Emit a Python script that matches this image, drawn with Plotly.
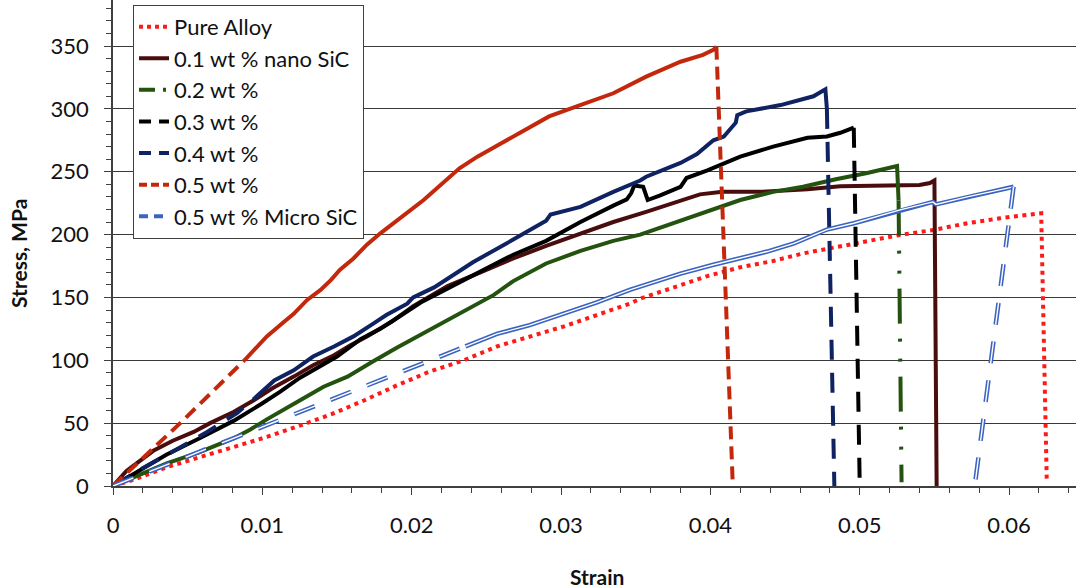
import plotly.graph_objects as go

# ---------------- data (strain, stress in MPa) ----------------
pure_strain = [0, 0.0014, 0.0036, 0.0058, 0.0081, 0.0103, 0.0125, 0.0146, 0.0168, 0.0190,
               0.0212, 0.0235, 0.0257, 0.0279, 0.0302, 0.0324, 0.0346, 0.0353, 0.0375, 0.0398,
               0.0420, 0.0442, 0.0462, 0.0484, 0.0505, 0.0527, 0.0549, 0.0572, 0.0594, 0.0616,
               0.06215, 0.06252]
pure_stress = [0, 5, 15, 23, 31, 39, 48, 57, 68, 80,
               91, 100, 111, 119, 127, 136, 145, 149, 158, 167,
               174, 179, 185, 190, 194.5, 199.7, 203.6, 209, 213, 215.6,
               217, 5]

nano01_strain = [0, 0.0009, 0.0018, 0.0027, 0.0040, 0.0054, 0.0065, 0.0081, 0.0094, 0.0107,
                 0.0121, 0.0134, 0.0148, 0.0159, 0.0170, 0.0187, 0.0201, 0.0224, 0.0246, 0.0268,
                 0.0290, 0.0313, 0.0335, 0.0357, 0.0380, 0.0393, 0.0408, 0.0434, 0.0465, 0.0487,
                 0.0540, 0.0547, 0.0550, 0.05515]
nano01_stress = [0, 12, 20, 28, 36, 43, 50, 59, 68, 78,
                 87, 96, 104, 112, 119, 131, 143, 159, 170, 181,
                 191, 201, 210, 218, 227, 232, 234, 234, 236, 238.5,
                 239.5, 241, 243, 0]

wt02_strain = [0, 0.0036, 0.0058, 0.0081, 0.0092, 0.0103, 0.0125, 0.0141, 0.0157, 0.0168,
               0.0174, 0.0190, 0.0210, 0.0228, 0.0246, 0.0255, 0.0268, 0.0290, 0.0313, 0.0335,
               0.0353, 0.0375, 0.0398, 0.0420, 0.0442, 0.0462, 0.0484, 0.0505, 0.0525, 0.0526,
               0.0528]
wt02_stress = [0, 18, 27, 38, 45, 53, 68, 79, 87, 95,
               99, 110, 123, 135, 147, 152, 163, 177, 187, 195,
               200, 209, 218, 227.5, 234, 238, 244, 249, 254.6, 227,
               3]

wt03_strain = [0, 0.0014, 0.0036, 0.0058, 0.0081, 0.0099, 0.0112, 0.0125, 0.0139, 0.0150,
               0.0166, 0.0179, 0.0192, 0.0206, 0.0219, 0.0232, 0.0246, 0.0268, 0.0290, 0.0313,
               0.0335, 0.0344, 0.0347, 0.0349, 0.0355, 0.0358, 0.0366, 0.0380, 0.0384, 0.0398,
               0.0420, 0.0442, 0.0465, 0.0478, 0.0487, 0.0496, 0.0500]
wt03_stress = [0, 10, 25, 38, 52, 65, 75, 86, 96, 103,
               117, 125, 135, 146, 154, 162, 170, 184, 195, 210,
               223, 228, 233, 239, 238, 227.5, 231, 238, 245, 251,
               262, 270, 277, 278, 281, 285, 0]

wt04_strain = [0, 0.0021, 0.0041, 0.0063, 0.0083, 0.0095, 0.0108, 0.0121, 0.0134, 0.0148,
               0.0161, 0.0174, 0.0183, 0.0197, 0.0201, 0.0215, 0.0228, 0.0241, 0.0268, 0.0290,
               0.0293, 0.0313, 0.0335, 0.0353, 0.0357, 0.0380, 0.0391, 0.0402, 0.0409, 0.0413,
               0.0417, 0.0418, 0.0424, 0.0447, 0.0469, 0.0477, 0.0478, 0.0483]
wt04_stress = [0, 15, 28, 43, 58, 70, 84, 92, 103, 111,
               119, 129, 136, 145, 150, 158, 168, 178, 196, 211,
               216, 222, 234, 243, 246, 257, 264, 275, 278, 283,
               289, 295, 298, 303, 310, 315.5, 300, 0]

wt05_strain = [0, 0.0045, 0.0088, 0.0094, 0.0103, 0.0112, 0.0121, 0.0130, 0.0139, 0.0146,
               0.0152, 0.0161, 0.0170, 0.0179, 0.0188, 0.0197, 0.0208, 0.0232, 0.0244, 0.0260,
               0.0276, 0.0292, 0.0310, 0.0335, 0.0357, 0.0380, 0.0395, 0.0402, 0.0404, 0.0415]
wt05_stress = [0, 50, 100, 108, 119, 128, 137, 148, 156, 164,
               172, 181, 192, 201, 209, 217, 227.5, 252.7, 262, 272.6,
               283, 294, 301.7, 312.4, 325.6, 337.5, 343, 347, 349.5, 0]

micro_strain = [0, 0.0236, 0.0257, 0.0279, 0.0302, 0.0324, 0.0346, 0.0380, 0.0402, 0.0420,
                0.0438, 0.0456, 0.0478, 0.0496, 0.0514, 0.0527, 0.0549, 0.0551, 0.0572, 0.0594,
                0.0603, 0.0577]
micro_stress = [0, 111, 121, 128, 137, 146, 156, 169, 176, 181,
                186.5, 193, 204, 209, 215, 219.6, 226, 224, 230, 235.5,
                238, 0]

legend_names = ["Pure Alloy", "0.1 wt % nano SiC", "0.2 wt %", "0.3 wt %", "0.4 wt %",
                "0.5 wt %", "0.5 wt % Micro SiC"]

x_ticks = [0, 0.01, 0.02, 0.03, 0.04, 0.05, 0.06]
y_ticks = [0, 50, 100, 150, 200, 250, 300, 350]

# ---------------- styles ----------------
DOT = "4px,4.5px"
D05 = "13px,7px"
D34 = "20px,13px"
D02 = "35px,15px,3px,17px,3px,15px"
DMI = "22px,17px"

series = [
    dict(x=pure_strain, y=pure_stress, color="#ff1a1a",
         segs=[(0, len(pure_strain) - 1, DOT)], leg_dash="4px,4px"),
    dict(x=nano01_strain, y=nano01_stress, color="#4a0d0d",
         segs=[(0, len(nano01_strain) - 1, "solid")], leg_dash="solid"),
    dict(x=wt02_strain, y=wt02_stress, color="#24520f",
         segs=[(0, 29, "solid"), (29, 30, D02)], leg_dash="16px,8px,3px,10px"),
    dict(x=wt03_strain, y=wt03_stress, color="#000000",
         segs=[(0, 35, "solid"), (35, 36, D34)], leg_dash="12px,8px"),
    dict(x=wt04_strain, y=wt04_stress, color="#0f2262",
         segs=[(0, 5, D34), (5, 36, "solid"), (36, 37, D34)], leg_dash="12px,8px"),
    dict(x=wt05_strain, y=wt05_stress, color="#c4280c",
         segs=[(0, 2, D05), (2, 28, "solid"), (28, 29, D05)], leg_dash="8px,4px"),
]

fig = go.Figure()

for s in series:
    for (a, b, dash) in s["segs"]:
        fig.add_trace(go.Scatter(
            x=s["x"][a:b + 1], y=s["y"][a:b + 1], mode="lines",
            line=dict(color=s["color"], width=4, dash=dash),
            showlegend=False, hoverinfo="skip"))

# micro SiC double line (blue with white core)
micro_segs = [(0, 1, DMI), (1, 20, "solid"), (20, 21, DMI)]
for (a, b, dash) in micro_segs:
    fig.add_trace(go.Scatter(x=micro_strain[a:b + 1], y=micro_stress[a:b + 1], mode="lines",
                             line=dict(color="#3a64c0", width=4.5, dash=dash),
                             showlegend=False, hoverinfo="skip"))
    fig.add_trace(go.Scatter(x=micro_strain[a:b + 1], y=micro_stress[a:b + 1], mode="lines",
                             line=dict(color="#ffffff", width=1.4, dash=dash),
                             showlegend=False, hoverinfo="skip"))

# legend entries
leg_styles = [(s["color"], s["leg_dash"]) for s in series] + [("#3a64c0", "9px,6px")]
for name, (col, dash) in zip(legend_names, leg_styles):
    fig.add_trace(go.Scatter(x=[None], y=[None], mode="lines", name=name,
                             line=dict(color=col, width=4, dash=dash)))

FONT = "Lato, 'Open Sans', sans-serif"
AX = "#404040"
TXT = "#111111"

fig.update_layout(
    width=1076, height=588,
    margin=dict(l=113, r=0, t=0, b=102, autoexpand=False),
    paper_bgcolor="white", plot_bgcolor="white",
    font=dict(family=FONT, size=22, color=TXT),
    showlegend=True,
    legend=dict(x=0.0208, y=0.99, xanchor="left", yanchor="top",
                bgcolor="white", bordercolor=AX, borderwidth=1,
                font=dict(family=FONT, size=22, color=TXT),
                itemwidth=30, tracegroupgap=0),
    xaxis=dict(range=[0, 0.06448], tickvals=x_ticks, ticktext=[f"{v:g}" for v in x_ticks],
               showgrid=False, zeroline=False, showline=True, linecolor=AX, linewidth=1.5,
               ticks="outside", ticklen=7, tickcolor=AX, tickwidth=1.2,
               ticklabelstandoff=12, automargin=False,
               minor=dict(dtick=0.002, tick0=0, ticks="outside", ticklen=5, tickcolor=AX,
                          showgrid=False),
               tickfont=dict(family=FONT, size=22, color=TXT)),
    yaxis=dict(range=[0, 386.6], tickvals=y_ticks,
               showgrid=True, gridcolor="#3a3a3a", gridwidth=1.2,
               zeroline=False, showline=True, linecolor=AX, linewidth=1.5,
               ticks="outside", ticklen=7, tickcolor=AX, tickwidth=1.2,
               ticklabelstandoff=11, automargin=False,
               minor=dict(dtick=10, tick0=0, ticks="outside", ticklen=5, tickcolor=AX,
                          showgrid=False),
               tickfont=dict(family=FONT, size=22, color=TXT)),
    annotations=[
        dict(text="<b>Stress, MPa</b>", xref="paper", yref="paper", x=-0.0987, y=0.4794,
             textangle=-90, showarrow=False, font=dict(family=FONT, size=21, color=TXT),
             xanchor="center", yanchor="middle"),
        dict(text="<b>Strain</b>", xref="paper", yref="paper", x=0.5026, y=-0.1872,
             showarrow=False, font=dict(family=FONT, size=21, color=TXT),
             xanchor="center", yanchor="middle"),
    ],
)

fig.write_html("out.html", config={"displayModeBar": False},
               post_script="document.body.style.margin='0';document.body.style.overflow='hidden';")
